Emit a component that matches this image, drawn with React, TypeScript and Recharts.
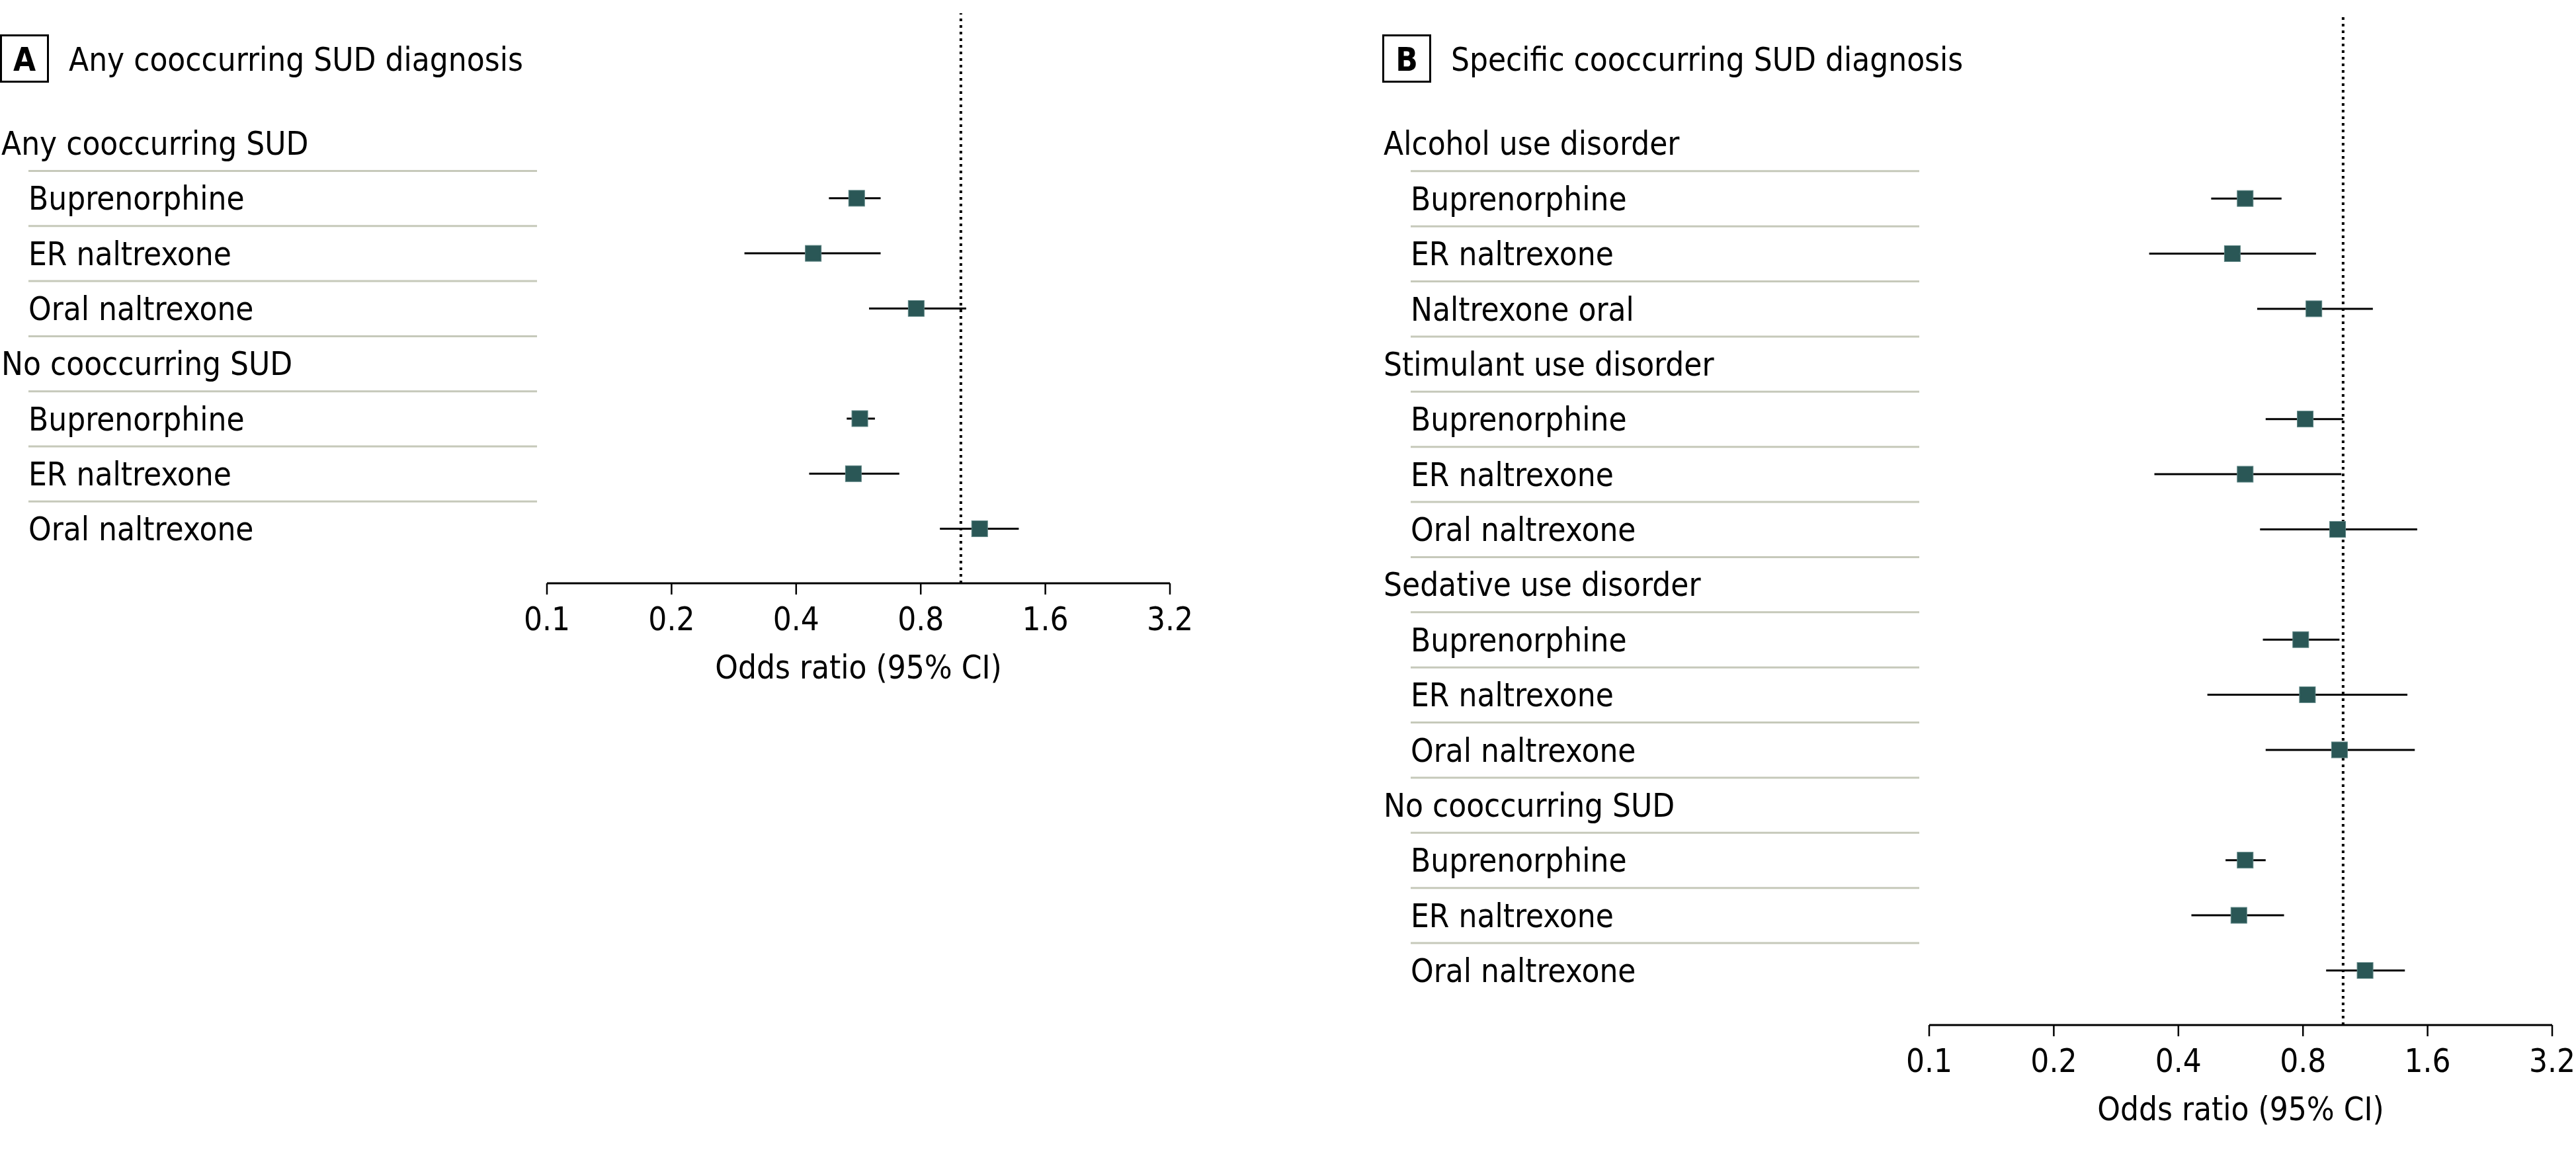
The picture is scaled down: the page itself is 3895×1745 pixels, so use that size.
import React from "react";
import { ScatterChart, Scatter, XAxis, YAxis, ErrorBar, ReferenceLine } from "recharts";

// Panel A: any cooccurring SUD diagnosis (null = group header row)
const panelARows = [
  "Any cooccurring SUD",
  "Buprenorphine",
  "ER naltrexone",
  "Oral naltrexone",
  "No cooccurring SUD",
  "Buprenorphine",
  "ER naltrexone",
  "Oral naltrexone",
];
const panelAOdds = [null, 0.56, 0.44, 0.78, null, 0.57, 0.55, 1.11];
const panelALower = [null, 0.48, 0.3, 0.6, null, 0.53, 0.43, 0.89];
const panelAUpper = [null, 0.64, 0.64, 1.03, null, 0.62, 0.71, 1.38];

// Panel B: specific cooccurring SUD diagnosis
const panelBRows = [
  "Alcohol use disorder",
  "Buprenorphine",
  "ER naltrexone",
  "Naltrexone oral",
  "Stimulant use disorder",
  "Buprenorphine",
  "ER naltrexone",
  "Oral naltrexone",
  "Sedative use disorder",
  "Buprenorphine",
  "ER naltrexone",
  "Oral naltrexone",
  "No cooccurring SUD",
  "Buprenorphine",
  "ER naltrexone",
  "Oral naltrexone",
];
const panelBOdds = [null, 0.58, 0.54, 0.85, null, 0.81, 0.58, 0.97, null, 0.79, 0.82, 0.98, null, 0.58, 0.56, 1.13];
const panelBLower = [null, 0.48, 0.34, 0.62, null, 0.65, 0.35, 0.63, null, 0.64, 0.47, 0.65, null, 0.52, 0.43, 0.91];
const panelBUpper = [null, 0.71, 0.86, 1.18, null, 1.0, 0.99, 1.51, null, 0.98, 1.43, 1.49, null, 0.65, 0.72, 1.41];

const oddsTicks = [0.1, 0.2, 0.4, 0.8, 1.6, 3.2];

const FONT = '"DejaVu Sans Condensed", "Liberation Sans", sans-serif';
const FONT_SIZE = 49;
const MARKER = "#2a5756";
const RULE = "#c6c9ba";

function buildPoints(odds: (number | null)[], lower: (number | null)[], upper: (number | null)[]) {
  return odds
    .map((or, i) => ({ row: i, or, err: or == null ? null : [or - (lower[i] as number), (upper[i] as number) - or] }))
    .filter((d) => d.or != null);
}

function SquareMarker(props: any) {
  const { cx, cy } = props;
  if (cx == null || cy == null) return null;
  return <rect x={cx - 12} y={cy - 12} width={24} height={24} fill={MARKER} stroke="#5d8584" strokeWidth={1} />;
}

function makeRowTick(rows: string[], odds: (number | null)[]) {
  return function RowTick(props: any) {
    const { y, payload } = props;
    const i = payload.value as number;
    const header = odds[i] == null;
    return (
      <g>
        <text x={header ? 2 : 43} y={y} dy="0.36em" fill="#000" fontSize={FONT_SIZE} fontFamily={FONT}>
          {rows[i]}
        </text>
        {i < rows.length - 1 && <line x1={43} x2={812} y1={y + 42} y2={y + 42} stroke={RULE} strokeWidth={3} />}
      </g>
    );
  };
}

function ForestPanel({
  rows,
  odds,
  lower,
  upper,
  width,
  height,
  right,
}: {
  rows: string[];
  odds: (number | null)[];
  lower: (number | null)[];
  upper: (number | null)[];
  width: number;
  height: number;
  right: number;
}) {
  const points = buildPoints(odds, lower, upper);
  const RowTick = makeRowTick(rows, odds);
  return (
    <ScatterChart width={width} height={height} margin={{ top: 20, right, bottom: 0, left: 0 }} style={{ overflow: "visible" }}>
      <XAxis
        type="number"
        dataKey="or"
        scale="log"
        domain={[0.1, 3.2]}
        ticks={oddsTicks}
        interval={0}
        allowDataOverflow
        height={195}
        axisLine={{ stroke: "#000", strokeWidth: 3 }}
        tickLine={{ stroke: "#000", strokeWidth: 2.5 }}
        tickSize={17}
        tickMargin={19}
        tick={{ fill: "#000", fontSize: FONT_SIZE, fontFamily: FONT }}
        label={{ value: "Odds ratio (95% CI)", position: "insideBottom", offset: 51, fill: "#000", fontSize: FONT_SIZE, fontFamily: FONT }}
      />
      <YAxis
        type="number"
        dataKey="row"
        domain={[-2.36, rows.length - 1 + 0.99]}
        reversed
        ticks={rows.map((_, i) => i)}
        interval={0}
        width={827}
        axisLine={false}
        tickLine={false}
        tick={<RowTick />}
      />
      <ReferenceLine x={1} stroke="#000" strokeWidth={4} strokeDasharray="4 6" />
      <Scatter data={points} shape={<SquareMarker />} isAnimationActive={false}>
        <ErrorBar dataKey="err" direction="x" width={0} stroke="#000" strokeWidth={3} />
      </Scatter>
    </ScatterChart>
  );
}

function PanelTitle({ letter, title, left }: { letter: string; title: string; left: number }) {
  return (
    <svg style={{ position: "absolute", left, top: 0, overflow: "visible" }} width={900} height={140}>
      <rect x={1.5} y={53.5} width={71} height={70} fill="#fff" stroke="#000" strokeWidth={3} />
      <text x={37} y={107} textAnchor="middle" fontWeight="bold" fontSize={FONT_SIZE} fontFamily={FONT} fill="#000">
        {letter}
      </text>
      <text x={104} y={107} fontSize={FONT_SIZE} fontFamily={FONT} fill="#000">
        {title}
      </text>
    </svg>
  );
}

export default function App() {
  return (
    <div style={{ position: "absolute", left: 0, top: 0, width: 3895, height: 1745, background: "#fff", fontFamily: FONT, overflow: "hidden" }}>
      <div style={{ position: "absolute", left: 0, top: 0 }}>
        <ForestPanel rows={panelARows} odds={panelAOdds} lower={panelALower} upper={panelAUpper} width={1830} height={1077} right={61} />
      </div>
      <div style={{ position: "absolute", left: 2090, top: 0 }}>
        <ForestPanel rows={panelBRows} odds={panelBOdds} lower={panelBLower} upper={panelBUpper} width={1805} height={1745} right={36} />
      </div>
      <PanelTitle letter="A" title="Any cooccurring SUD diagnosis" left={0} />
      <PanelTitle letter="B" title="Specific cooccurring SUD diagnosis" left={2090} />
    </div>
  );
}
